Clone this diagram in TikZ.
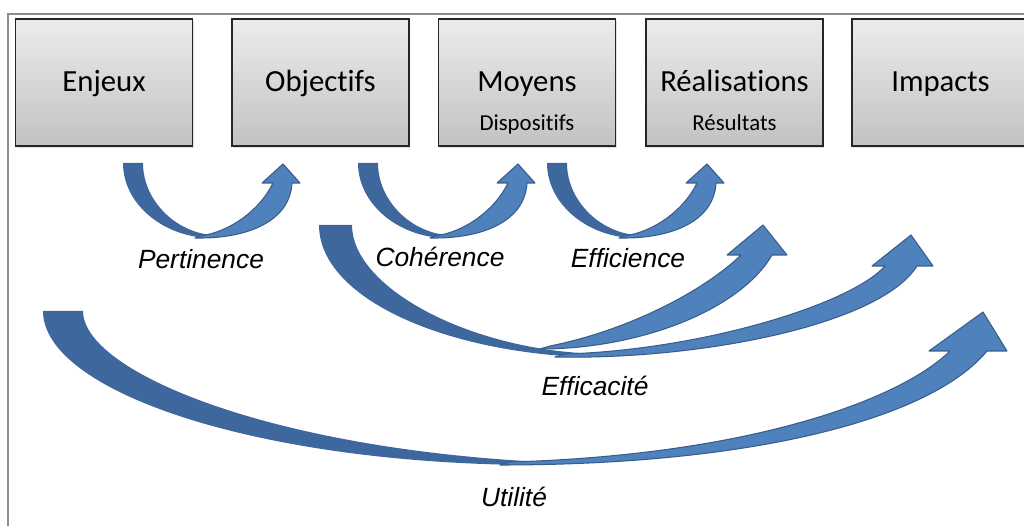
\documentclass[tikz,border=0pt]{standalone}
\usepackage{fontspec}
\setmainfont{Carlito}[Ligatures=CommonOff]
\newfontfamily\labelfont{Liberation Sans}
\usetikzlibrary{shadows}

\definecolor{boxtop}{RGB}{236,236,236}
\definecolor{boxbot}{RGB}{194,194,194}
\definecolor{framegray}{RGB}{140,140,140}
\definecolor{arrowfront}{RGB}{79,129,189}
\definecolor{arrowback}{RGB}{61,103,157}
\definecolor{arrowline}{RGB}{56,93,138}

\tikzset{
	stagebox/.style={draw=black!85, line width=0.9pt, top color=boxtop, bottom color=boxbot,
		minimum width=3.54cm, minimum height=2.54cm, inner sep=0pt,
		text height=13pt, text depth=2.2pt,
		font=\fontsize{17.5}{20}\selectfont,
		drop shadow={opacity=0.25, shadow xshift=0.6pt, shadow yshift=-1.2pt}},
	subtext/.style={font=\fontsize{13}{15}\selectfont, anchor=base, inner sep=0pt},
	critlabel/.style={font=\labelfont\itshape\fontsize{15}{18}\selectfont},
	backband/.style={fill=arrowback},
	frontband/.style={fill=arrowfront, draw=arrowline, line width=0.6pt, line join=round},
}

\begin{document}
\begin{tikzpicture}[x=0.02cm, y=-0.02cm]
			%%%%% START %%%%%
			\useasboundingbox (0,0) rectangle (1024,526);
			\clip (0,0) rectangle (1024,526);
			
			\draw[color=framegray, line width=0.8pt] (8,530) -- (8,14) -- (1030,14);
			
			\node[stagebox] (enjeux) at (104,82.5) {Enjeux};
			\node[stagebox] (objectifs) at (320.5,82.5) {Objectifs};
			\node[stagebox] (moyens) at (527,82.5) {Moyens};
			\node[stagebox] (realisations) at (734.5,82.5) {Réalisations};
			\node[stagebox] (impacts) at (940.5,82.5) {Impacts};
			\node[subtext] (dispositifs) at (527,131) {Dispositifs};
			\node[subtext] (resultats) at (734.5,131) {Résultats};
			
			% small arrows between neighbours
			\foreach \dx in {0,235,424}{
				\begin{scope}[shift={(\dx,0)}]
					\fill[backband] (123,163) .. controls (123,205) and (165,238) .. (212,238) -- (212,235) .. controls (175,232) and (143,200) .. (143,163) -- cycle;
					\filldraw[frontband] (195,238) .. controls (250,239) and (290,220) .. (292,183) -- (300,183) -- (283,164) -- (262,183) -- (273,183) .. controls (260,210) and (230,232) .. (200,236) -- cycle;
				\end{scope}
			}
			
			% big arrows from objectifs
			\fill[backband] (319,225) .. controls (319,295) and (435,350) .. (580,357) -- (580,353) .. controls (460,345) and (352,285) .. (352,225) -- cycle;
			\filldraw[frontband] (555,357) .. controls (700,360) and (880,325) .. (917,266) -- (933,266) -- (911,235) -- (872,266) -- (885,266) .. controls (850,305) and (700,350) .. (565,354) -- cycle;
			\filldraw[frontband] (540,349) .. controls (640,349) and (740,310) .. (772,255) -- (787,255) -- (763,225) -- (727,255) -- (741,255) .. controls (705,290) and (630,330) .. (550,346) -- cycle;
			
			% utilite
			\fill[backband] (43,311) .. controls (43,390) and (250,462) .. (525,465) -- (525,461) .. controls (260,445) and (83,370) .. (83,311) -- cycle;
			\filldraw[frontband] (500,465) .. controls (750,465) and (930,420) .. (987,351) -- (1007,351) -- (983,312) -- (929,351) -- (950,351) .. controls (900,400) and (750,455) .. (510,462) -- cycle;
			
			\node[critlabel] (pertinence) at (201,259) {Pertinence};
			\node[critlabel] (coherence) at (440,257) {Cohérence};
			\node[critlabel] (efficience) at (628,258) {Efficience};
			\node[critlabel] (efficacite) at (595,386) {Efficacité};
			\node[critlabel] (utilite) at (514,497) {Utilité};
			
			%%%%% END %%%%%
		\end{tikzpicture}
\end{document}
